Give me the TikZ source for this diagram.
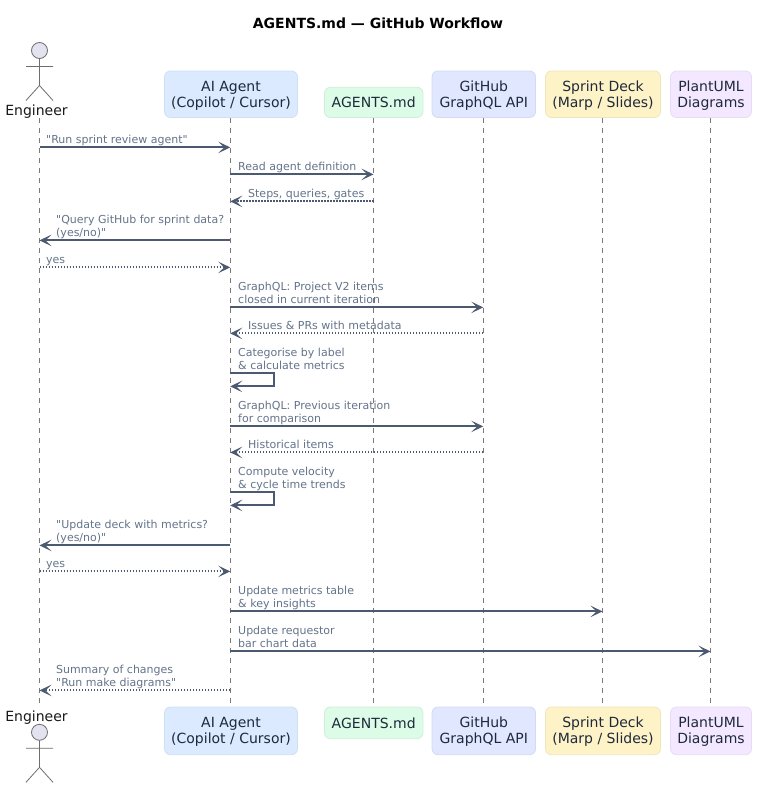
\documentclass[tikz,border=0pt]{standalone}
\usepackage{fontspec}
\setmainfont{DejaVu Sans}
\newfontfamily\plainfont{DejaVu Sans}
\usetikzlibrary{arrows.meta}
\definecolor{msgline}{HTML}{4B5A70}
\definecolor{msgtext}{HTML}{64748B}
\definecolor{parttext}{HTML}{1E293B}
\definecolor{lifecol}{HTML}{7A7A7A}
\definecolor{actorfill}{HTML}{E2E2F0}
\definecolor{actorline}{HTML}{6E6E6E}
\definecolor{fA}{HTML}{DBEAFE}\definecolor{bA}{HTML}{CFE0F5}
\definecolor{fM}{HTML}{DCFCE7}\definecolor{bM}{HTML}{CDEFD9}
\definecolor{fG}{HTML}{E0E7FF}\definecolor{bG}{HTML}{D3DAF5}
\definecolor{fS}{HTML}{FEF3C7}\definecolor{bS}{HTML}{F0E6BE}
\definecolor{fP}{HTML}{F3E8FF}\definecolor{bP}{HTML}{E6DCF5}
\tikzset{
  part/.style={rounded corners=6pt, line width=0.8pt, inner sep=0pt},
  parttxt/.style={inner sep=0pt, align=center, anchor=south, text=parttext,
    font=\fontsize{14}{16}\selectfont},
  life/.style={draw=lifecol, line width=0.8pt, dash pattern=on 5pt off 5pt},
  msg/.style={draw=msgline, line width=2pt, -{Stealth[length=12pt,width=11.5pt,inset=6pt]}},
  ret/.style={msg, dash pattern=on 1.5pt off 1.5pt},
  lab/.style={text=msgtext, inner sep=0pt, align=left, anchor=south west,
    font=\fontsize{11}{13}\selectfont\plainfont},
  actorpart/.style={draw=actorline, line width=0.8pt},
  actorname/.style={inner sep=0pt, anchor=base, text=black!90, font=\fontsize{14}{16}\selectfont},
}
% \msgr{style}{from}{to}{y}{label x}{text}
\newcommand{\msgr}[6]{%
  \draw[#1] (#2 |- 0,#4+0.4) -- (#3 |- 0,#4+0.4);
  \node[lab] at (#5,#4+1) {#6\strut};}
% self message from the agent lifeline
\newcommand{\selfmsg}[3]{%
  \draw[msg] (LA |- 0,#1+0.4) -| (274,#2+0.4) -- (LA |- 0,#2+0.4);
  \node[lab] at (238,#1+1) {#3\strut};}
\newcommand{\actorfig}[1]{%
  \begin{scope}[shift={(39.5,#1)}]
    \draw[actorpart, fill=actorfill] (0,0) circle (8);
    \draw[actorpart] (0,8) -- (0,35) (-13.5,16) -- (13.5,16) (-13.5,50) -- (0,35) -- (13.5,50);
  \end{scope}}
% \partbox{name}{colour letter}{cx}{top}{bottom}{w}{text bottom}{text}
\newcommand{\partbox}[8]{%
  \node[part, draw=b#2, fill=f#2, minimum width=#6, minimum height=#5-#4] (#1) at (#3,{(#4+#5)/2}) {};
  \node[parttxt] (#1txt) at (#3,#7) {#8\strut};}
\begin{document}
\begin{tikzpicture}[x=1pt,y=-1pt]
\useasboundingbox (0,0) rectangle (761,790);
\fill[white] (0,0) rectangle (761,790);
\node[inner sep=0pt, font=\fontsize{14}{16}\selectfont\bfseries] (title) at (378,23) {AGENTS.md — GitHub Workflow};

% lifeline ends
\coordinate (LE) at (39.5,118);   \coordinate (LEb) at (39.5,703);
\coordinate (LA) at (230.2,118);  \coordinate (LAb) at (230.2,703);
\coordinate (LM) at (373.5,118);  \coordinate (LMb) at (373.5,703);
\coordinate (LG) at (483.2,118);  \coordinate (LGb) at (483.2,703);
\coordinate (LS) at (602.5,118);  \coordinate (LSb) at (602.5,703);
\coordinate (LP) at (710.5,118);  \coordinate (LPb) at (710.5,703);
\foreach \a/\b in {LE/LEb,LA/LAb,LM/LMb,LG/LGb,LS/LSb,LP/LPb}{\draw[life] (\a) -- (\b);}

% top participants
\actorfig{50.5}
\node[actorname] (eng) at (36.5,115) {Engineer};
\partbox{agent}{A}{231}{71}{117.5}{133}{112.1}{AI Agent\\(Copilot / Cursor)}
\partbox{md}{M}{373.7}{87.3}{117.5}{98.5}{112.1}{AGENTS.md}
\partbox{gh}{G}{483.8}{71}{117.5}{103.5}{112.1}{GitHub\\GraphQL API}
\partbox{deck}{S}{603}{71}{117.5}{115}{112.1}{Sprint Deck\\(Marp / Slides)}
\partbox{puml}{P}{711}{71}{117.5}{81}{112.1}{PlantUML\\Diagrams}

% messages
\msgr{msg}{LE}{LA}{147}{46}{"Run sprint review agent"}
\msgr{msg}{LA}{LM}{174}{238}{Read agent definition}
\msgr{ret}{LM}{LA}{201}{248}{Steps, queries, gates}
\msgr{msg}{LA}{LE}{240}{56}{"Query GitHub for sprint data?\\(yes/no)"}
\msgr{ret}{LE}{LA}{267}{46}{yes}
\msgr{msg}{LA}{LG}{307}{238}{GraphQL: Project V2 items\\closed in current iteration}
\msgr{ret}{LG}{LA}{333}{248}{Issues \& PRs with metadata}
\selfmsg{373}{386}{Categorise by label\\\& calculate metrics}
\msgr{msg}{LA}{LG}{426}{238}{GraphQL: Previous iteration\\for comparison}
\msgr{ret}{LG}{LA}{452}{248}{Historical items}
\selfmsg{492}{505}{Compute velocity\\\& cycle time trends}
\msgr{msg}{LA}{LE}{545}{56}{"Update deck with metrics?\\(yes/no)"}
\msgr{ret}{LE}{LA}{571}{46}{yes}
\msgr{msg}{LA}{LS}{611}{238}{Update metrics table\\\& key insights}
\msgr{msg}{LA}{LP}{651}{238}{Update requestor\\bar chart data}
\msgr{ret}{LA}{LE}{690}{56}{Summary of changes\\"Run make diagrams"}

% bottom participants
\node[actorname] (engb) at (36.5,721) {Engineer};
\actorfig{732.3}
\partbox{agentb}{A}{231}{707}{754.7}{133}{748.8}{AI Agent\\(Copilot / Cursor)}
\partbox{mdb}{M}{373.7}{707}{738.7}{98.5}{733.1}{AGENTS.md}
\partbox{ghb}{G}{483.8}{707}{754.7}{103.5}{748.8}{GitHub\\GraphQL API}
\partbox{deckb}{S}{603}{707}{754.7}{115}{748.8}{Sprint Deck\\(Marp / Slides)}
\partbox{pumlb}{P}{711}{707}{754.7}{81}{748.8}{PlantUML\\Diagrams}
\end{tikzpicture}
\end{document}
